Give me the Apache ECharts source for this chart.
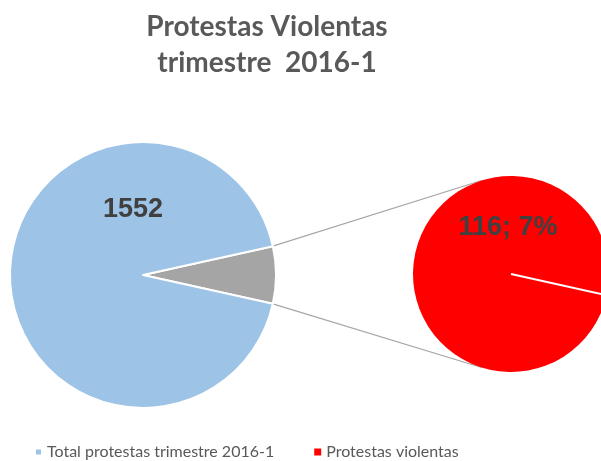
<!DOCTYPE html>
<html>
<head>
<meta charset="utf-8">
<script src="https://cdn.jsdelivr.net/npm/echarts@6/dist/echarts.min.js"></script>
<style>
  html, body { margin: 0; padding: 0; background: #fff; }
  #pieChart { width: 601px; height: 461px; }
</style>
</head>
<body>
<div id="pieChart"></div>
<script>
// data
const titleText = 'Protestas Violentas\ntrimestre  2016-1';
const mainNames = ['Protestas violentas (parte)', 'Total protestas trimestre 2016-1'];
const mainValues = [116, 1552];
const subNames = ['Protestas violentas'];
const subValues = [116];
const legendNames = ['Total protestas trimestre 2016-1', 'Protestas violentas'];

// layout
const mainCenter = [143, 275];
const mainR = 133;
const subCenter = [511, 274];
const subR = 98;

const total = mainValues.reduce((a, b) => a + b, 0);
const halfDeg = mainValues[0] / total * 180;
const rad = d => d * Math.PI / 180;

// connector lines: from edge of grey wedge to tangent point on second pie
function tangentLine(sign) {
  const a = rad(sign * halfDeg);
  const p = [mainCenter[0] + mainR * Math.cos(a), mainCenter[1] - mainR * Math.sin(a)];
  const dx = p[0] - subCenter[0], dy = -(p[1] - subCenter[1]);
  const d = Math.sqrt(dx * dx + dy * dy);
  const base = Math.atan2(dy, dx);
  const t = base - sign * Math.acos(subR / d);
  const q = [subCenter[0] + subR * Math.cos(t), subCenter[1] - subR * Math.sin(t)];
  return { x1: p[0], y1: p[1], x2: q[0], y2: q[1] };
}
const edgeA = rad(-halfDeg);

const chart = echarts.init(document.getElementById('pieChart'));
chart.setOption({
  animation: false,
  title: {
    text: titleText,
    left: 262,
    top: 4,
    textAlign: 'center',
    textStyle: { fontFamily: 'Lato', fontSize: 28, fontWeight: 'bold', color: '#595959', lineHeight: 36 }
  },
  legend: {
    data: legendNames,
    left: 29,
    top: 439,
    icon: 'rect',
    itemWidth: 7,
    itemHeight: 7,
    itemGap: 40,
    textStyle: { fontFamily: 'Lato', fontSize: 16, color: '#595959' }
  },
  graphic: [
    { type: 'line', shape: tangentLine(1), style: { stroke: '#a6a6a6', lineWidth: 1.2 }, z: 1 },
    { type: 'line', shape: tangentLine(-1), style: { stroke: '#a6a6a6', lineWidth: 1.2 }, z: 1 },
    {
      type: 'line',
      shape: {
        x1: subCenter[0], y1: subCenter[1],
        x2: subCenter[0] + subR * Math.cos(edgeA), y2: subCenter[1] - subR * Math.sin(edgeA)
      },
      style: { stroke: '#ffffff', lineWidth: 2 },
      z: 10
    }
  ],
  series: [
    {
      type: 'pie',
      center: mainCenter,
      radius: mainR,
      startAngle: halfDeg,
      clockwise: true,
      itemStyle: { borderColor: '#fff', borderWidth: 2 },
      label: { show: false },
      labelLine: { show: false },
      emphasis: { disabled: true },
      data: [
        { name: mainNames[0], value: mainValues[0], itemStyle: { color: '#a5a5a5' } },
        {
          name: mainNames[1], value: mainValues[1], itemStyle: { color: '#9dc3e6' },
          label: {
            show: true, position: 'inside', formatter: '{c}',
            fontFamily: 'Arial', fontSize: 27, fontWeight: 'bold', color: '#404040'
          }
        }
      ],
      labelLayout: () => ({ x: 133, y: 210, align: 'center', verticalAlign: 'middle' })
    },
    {
      type: 'pie',
      center: subCenter,
      radius: subR,
      startAngle: -halfDeg,
      itemStyle: { borderWidth: 0 },
      label: {
        show: true, position: 'inside',
        formatter: p => p.value + '; ' + Math.round(p.value / total * 100) + '%',
        fontFamily: 'Arial', fontSize: 27, fontWeight: 'bold', color: '#404040'
      },
      labelLine: { show: false },
      emphasis: { disabled: true },
      data: subNames.map((n, i) => ({ name: n, value: subValues[i], itemStyle: { color: '#ff0000' } })),
      labelLayout: () => ({ x: 508, y: 228, align: 'center', verticalAlign: 'middle' })
    }
  ]
});
</script>
</body>
</html>
